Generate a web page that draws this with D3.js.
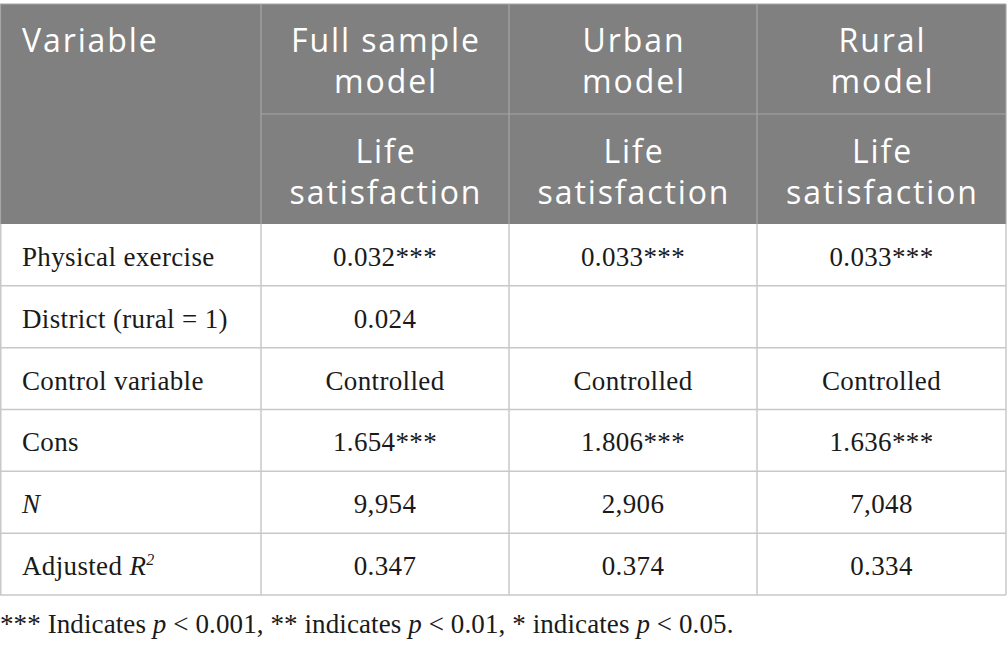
<!DOCTYPE html>
<html>
<head>
<meta charset="utf-8">
<script src="https://cdn.jsdelivr.net/npm/d3@7"></script>
<style>
  html, body { margin: 0; padding: 0; background: #fff; }
  svg { display: block; }
</style>
</head>
<body>
<svg id="tbl" width="1007" height="649"></svg>
<script>
// Table content
const modelHeaders = [["Full sample", "model"], ["Urban", "model"], ["Rural", "model"]];
const subHeaders = [["Life", "satisfaction"], ["Life", "satisfaction"], ["Life", "satisfaction"]];
const rowLabels = ["Physical exercise", "District (rural = 1)", "Control variable", "Cons", "N", "Adjusted R2"];
const fullSample = ["0.032***", "0.024", "Controlled", "1.654***", "9,954", "0.347"];
const urbanModel = ["0.033***", "", "Controlled", "1.806***", "2,906", "0.374"];
const ruralModel = ["0.033***", "", "Controlled", "1.636***", "7,048", "0.334"];
const footnote = "*** Indicates p < 0.001, ** indicates p < 0.01, * indicates p < 0.05.";

const svg = d3.select("#tbl");

const HEAD = "#808080";
const HEAD_LINE = "#a6a6a6";
const GRID = "#c8c8c8";
const SANS = "'Open Sans', 'Noto Sans', sans-serif";
const SERIF = "'Liberation Serif', 'DejaVu Serif', serif";

// Column edges
const colEdges = [0, 261, 509, 757, 1006];
const x = i => colEdges[i];
const cx = i => (colEdges[i] + colEdges[i + 1]) / 2;

// Vertical layout
const headTop = 4, headMid = 114, headBottom = 224;
const y = d3.scaleBand()
    .domain(d3.range(rowLabels.length))
    .range([headBottom, 595])
    .paddingInner(0).paddingOuter(0);

// Header background
svg.append("rect")
    .attr("x", 0).attr("y", headTop)
    .attr("width", x(4)).attr("height", headBottom - headTop)
    .attr("fill", HEAD);

// Header grid lines
const hg = svg.append("g").attr("stroke", HEAD_LINE).attr("stroke-width", 1.2);
hg.append("line").attr("x1", 0).attr("x2", x(4)).attr("y1", headTop).attr("y2", headTop);
hg.append("line").attr("x1", x(1)).attr("x2", x(4)).attr("y1", headMid).attr("y2", headMid);
[1, 2, 3].forEach(i => {
    hg.append("line").attr("x1", x(i)).attr("x2", x(i)).attr("y1", headTop).attr("y2", headBottom);
});
hg.append("line").attr("x1", x(4)).attr("x2", x(4)).attr("y1", headTop).attr("y2", headBottom);
hg.append("line").attr("x1", 0.5).attr("x2", 0.5).attr("y1", headTop).attr("y2", headBottom);

// Header text
const ht = svg.append("g")
    .attr("fill", "#fff")
    .attr("font-family", SANS)
    .attr("font-size", 32)
    .attr("letter-spacing", 1.9);

ht.append("text").attr("x", 22).attr("y", 52).text("Variable");

modelHeaders.forEach((lines, i) => {
    lines.forEach((t, k) => {
        ht.append("text")
            .attr("x", cx(i + 1) + 1).attr("y", 52 + k * 41)
            .attr("text-anchor", "middle")
            .text(t);
    });
});
subHeaders.forEach((lines, i) => {
    lines.forEach((t, k) => {
        ht.append("text")
            .attr("x", cx(i + 1) + 1).attr("y", 163 + k * 41)
            .attr("text-anchor", "middle")
            .text(t);
    });
});

// Body grid
const bg = svg.append("g").attr("stroke", GRID).attr("stroke-width", 1.5).attr("fill", "none");
y.domain().forEach(r => {
    const yb = y(r) + y.bandwidth();
    bg.append("line").attr("x1", 0).attr("x2", x(4)).attr("y1", yb).attr("y2", yb);
});
[0, 1, 2, 3, 4].forEach(i => {
    const xx = i === 0 ? 0.75 : x(i);
    bg.append("line").attr("x1", xx).attr("x2", xx).attr("y1", headBottom).attr("y2", 595);
});

// Body text
const body = svg.append("g")
    .attr("fill", "#1a1a1a")
    .attr("font-family", SERIF)
    .attr("font-size", 27)
    .attr("letter-spacing", 0.35);

const baseline = r => y(r) + y.bandwidth() / 2 + 11;

rowLabels.forEach((lab, r) => {
    const t = body.append("text").attr("x", 22).attr("y", baseline(r));
    if (lab === "N") {
        t.append("tspan").attr("font-style", "italic").text("N");
    } else if (lab === "Adjusted R2") {
        t.append("tspan").text("Adjusted ");
        t.append("tspan").attr("font-style", "italic").text("R");
        t.append("tspan").attr("font-style", "italic").attr("font-size", 16).attr("dy", -10).text("2");
    } else {
        t.text(lab);
    }
});

[fullSample, urbanModel, ruralModel].forEach((vals, c) => {
    vals.forEach((v, r) => {
        if (!v) return;
        body.append("text")
            .attr("x", cx(c + 1)).attr("y", baseline(r))
            .attr("text-anchor", "middle")
            .text(v);
    });
});

// Footnote (with italic p)
const fn = svg.append("text")
    .attr("x", 0).attr("y", 633)
    .attr("fill", "#1a1a1a")
    .attr("font-family", SERIF)
    .attr("font-size", 27)
    .attr("letter-spacing", 0.1);
footnote.split(/(\bp\b)/).forEach(part => {
    if (part === "p") fn.append("tspan").attr("font-style", "italic").text("p");
    else fn.append("tspan").text(part);
});
</script>
</body>
</html>
